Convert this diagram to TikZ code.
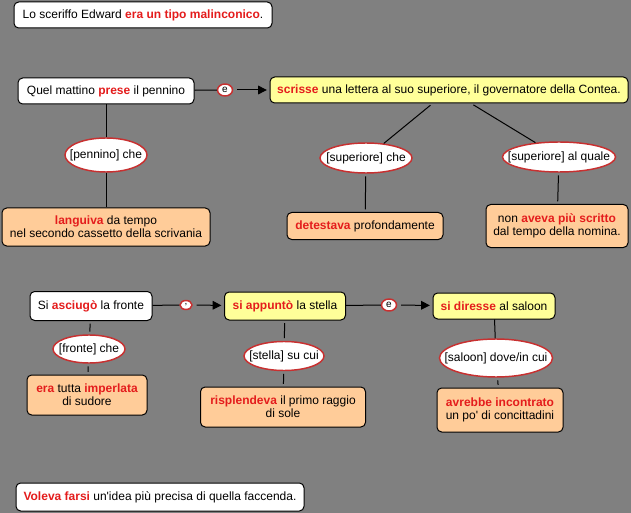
\documentclass[tikz,border=0pt]{standalone}
\usepackage{fontspec}
\setmainfont{Liberation Sans}
\usetikzlibrary{shapes.geometric,arrows.meta}
\definecolor{bggray}{RGB}{128,128,128}
\definecolor{kwred}{RGB}{228,28,28}
\definecolor{relred}{RGB}{200,48,48}
\definecolor{yellowfill}{RGB}{255,255,153}
\definecolor{orangefill}{RGB}{255,204,153}
\newcommand{\kw}[1]{\textbf{\color{kwred}#1}}
\newcommand{\ctr}[1]{\makebox[0pt]{#1}}

\tikzset{every picture/.style={line width=0.75pt}}
\tikzset{
  sz/.style 2 args={minimum width=#1*0.75pt, minimum height=#2*0.75pt},
  box/.style={draw=black, rounded corners=3.5pt, inner sep=0pt, align=center, font=\fontsize{9}{9.75}\selectfont},
  wbox/.style={box, fill=white},
  ybox/.style={box, fill=yellowfill},
  obox/.style={box, fill=orangefill},
  rel/.style={ellipse, draw=relred, line width=1.1pt, fill=white, inner sep=0pt, font=\fontsize{9}{9.75}\selectfont},
  conj/.style={ellipse, draw=relred, line width=1.1pt, fill=white, inner sep=0pt, font=\fontsize{7.5}{8}\selectfont},
  link/.style={-{Triangle[length=6.5pt,width=6.5pt]}, shorten >=2pt},
  stem/.style={shorten <=2pt, shorten >=2pt},
}

\begin{document}
\begin{tikzpicture}[x=0.75pt,y=0.75pt,yscale=-1,xscale=1]
%set diagram size: 631 x 513
\fill [bggray] (0,0) rectangle (631,513);

% Text Node
\draw (143,15) node [wbox, sz={258}{26}] (sceriffo) {Lo sceriffo Edward \kw{era un tipo malinconico}.};

%first period
% Text Node
\draw (106,91) node [wbox, sz={176}{26}] (mattino) {Quel mattino \kw{prese} il pennino};
% Text Node
\draw (225,90) node [conj, sz={15}{12}] (conjA) {\ctr{e}};
% Text Node
\draw (449,90) node [ybox, sz={358}{26}] (scrisse) {\kw{scrisse} una lettera al suo superiore, il governatore della Contea.};
% Text Node
\draw (106,155) node [rel, sz={82}{34}] (relpennino) {\ctr{[pennino] che}};
% Text Node
\draw (106,227) node [obox, sz={208}{38}] (languiva) {\kw{languiva} da tempo\\nel secondo cassetto della scrivania};
% Text Node
\draw (366,158) node [rel, sz={92}{30}] (relsupche) {\ctr{[superiore] che}};
% Text Node
\draw (559,157) node [rel, sz={113}{30}] (relsupquale) {\ctr{[superiore] al quale}};
% Text Node
\draw (365,226) node [obox, sz={156}{27}] (detestava) {\kw{detestava} profondamente};
% Text Node
\draw (557,226) node [obox, sz={142}{43}] (scritto) {non \kw{aveva più scritto}\\dal tempo della nomina.};

%second period
% Text Node
\draw (91,306) node [wbox, sz={122}{29}] (asciugo) {Si \kw{asciugò} la fronte};
% Text Node
\draw (186,305) node [conj, sz={12}{9}] (conjB) {\ctr{,}};
% Text Node
\draw (285,306) node [ybox, sz={121}{28}] (appunto) {\kw{si appuntò} la stella};
% Text Node
\draw (389,305) node [conj, sz={15}{12}] (conjC) {\ctr{e}};
% Text Node
\draw (494,306) node [ybox, sz={122}{26}] (diresse) {\kw{si diresse} al saloon};
% Text Node
\draw (89,349) node [rel, sz={72}{28}] (relfronte) {\ctr{[fronte] che}};
% Text Node
\draw (87,395) node [obox, sz={120}{40}] (imperlata) {\kw{era} tutta \kw{imperlata}\\di sudore};
% Text Node
\draw (284,356) node [rel, sz={80}{29}] (relstella) {\ctr{[stella] su cui}};
% Text Node
\draw (283,407) node [obox, sz={165}{40}] (risplendeva) {\kw{risplendeva} il primo raggio\\di sole};
% Text Node
\draw (496,358) node [rel, sz={113}{38}] (relsaloon) {\ctr{[saloon] dove/in cui}};
% Text Node
\draw (500,410) node [obox, sz={126}{44}] (incontrato) {\kw{avrebbe incontrato}\\un po\textquotesingle{} di concittadini};

% Text Node
\draw (160,497) node [wbox, sz={288}{28}] (voleva) {\kw{Voleva farsi} un\textquotesingle idea più precisa di quella faccenda.};

%Straight Lines
\draw (mattino) -- (conjA);
\draw [link, shorten <=3pt] (conjA) -- (scrisse);
\draw (mattino) -- (relpennino);
\draw (relpennino) -- (languiva);
\draw [shorten <=2pt] (scrisse) -- (relsupche);
\draw [shorten <=2pt] (scrisse) -- (relsupquale);
\draw [stem] (relsupche) -- (detestava);
\draw [stem] (relsupquale) -- (scritto);

\draw (asciugo) -- (conjB);
\draw [link, shorten <=3pt] (conjB) -- (appunto);
\draw (appunto) -- (conjC);
\draw [link, shorten <=3pt] (conjC) -- (diresse);
\draw [stem] (asciugo) -- (relfronte);
\draw [stem] (relfronte) -- (imperlata);
\draw [stem] (appunto) -- (relstella);
\draw [stem] (relstella) -- (risplendeva);
\draw (diresse) -- (relsaloon);
\draw [stem] (relsaloon) -- (incontrato);

\end{tikzpicture}
\end{document}
